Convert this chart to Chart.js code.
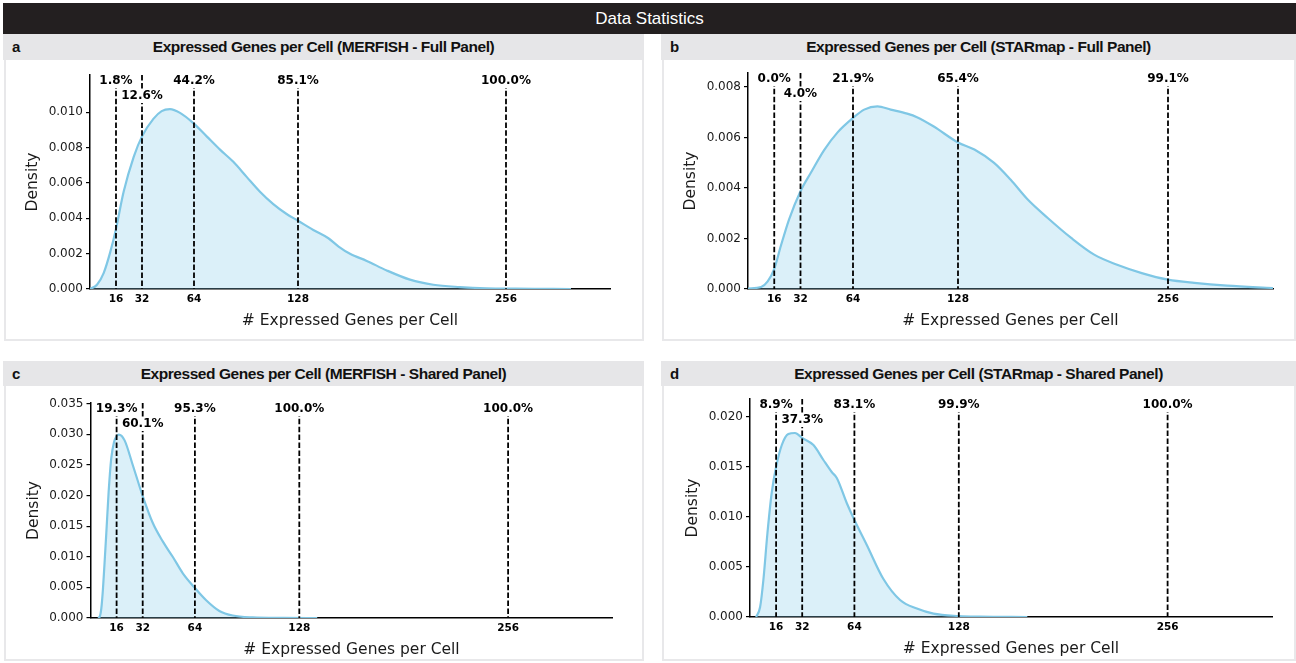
<!DOCTYPE html>
<html><head><meta charset="utf-8">
<script src="https://cdn.jsdelivr.net/npm/chart.js@4.4.1/dist/chart.umd.min.js"></script>
<style>
html,body{margin:0;padding:0;background:#fff;}
body{width:1296px;height:663px;position:relative;overflow:hidden;font-family:"Liberation Sans",Arial,sans-serif;}
#topbar{position:absolute;left:3px;top:3px;width:1293px;height:31px;background:#231f20;color:#fff;font-size:17px;line-height:31px;text-align:center;}
.phead{position:absolute;background:#e6e6e8;height:26px;}
.phead .lab{position:absolute;left:9px;top:0;line-height:26px;font-weight:bold;font-size:15px;color:#111;}
.phead .ttl{position:absolute;left:0;right:0;top:0;line-height:26px;text-align:center;font-weight:bold;font-size:15.5px;letter-spacing:-0.45px;color:#111;}
.pbody{position:absolute;border:2px solid #e8e8ea;border-top:none;box-sizing:border-box;background:#fff;}
canvas{position:absolute;}
</style></head><body>
<div id="topbar">Data Statistics</div>
<div id="root"></div>
<script>
// ---- data ----
const xTickValues = [16, 32, 64, 128, 256];
const panelLetters = ['a', 'b', 'c', 'd'];
const panelTitles = [
  'Expressed Genes per Cell (MERFISH - Full Panel)',
  'Expressed Genes per Cell (STARmap - Full Panel)',
  'Expressed Genes per Cell (MERFISH - Shared Panel)',
  'Expressed Genes per Cell (STARmap - Shared Panel)'
];
const xAxisTitle = '# Expressed Genes per Cell';
const yAxisTitle = 'Density';

const merfishFullX = [0, 4.3, 8.4, 12.5, 16, 20.7, 26.9, 32, 39, 44.1, 49.2, 55.4, 63.6, 71.8, 80, 88.2, 96.4, 104.6, 112.8, 121, 128, 137.4, 146.7, 153, 160, 170.3, 182.6, 196.9, 211.3, 227.7, 244, 262, 280, 296];
const merfishFullY = [0, 0.00024, 0.0009, 0.0021, 0.0034, 0.0055, 0.00747, 0.00863, 0.00962, 0.01006, 0.01017, 0.00996, 0.00938, 0.00863, 0.00788, 0.00719, 0.00634, 0.0055, 0.0048, 0.00424, 0.00386, 0.00334, 0.00287, 0.0024, 0.00199, 0.00159, 0.00105, 0.00053, 0.00024, 0.00011, 0.00004, 0.00002, 0.00001, 0];
const merfishFullPct = ['1.8%', '12.6%', '44.2%', '85.1%', '100.0%'];
const merfishFullYTicks = [0, 0.002, 0.004, 0.006, 0.008, 0.010];

const starmapFullX = [0, 8, 12, 16, 20, 25, 32, 38.3, 46.4, 54.6, 64, 70.8, 78.9, 87, 97, 103, 113, 128, 138, 150, 160, 170.5, 182.7, 197, 211, 225, 240, 256, 272, 292, 320];
const starmapFullY = [0.00002, 0.00008, 0.0003, 0.0008, 0.0017, 0.00275, 0.00387, 0.0046, 0.0055, 0.0062, 0.00677, 0.0071, 0.00723, 0.0071, 0.00694, 0.0068, 0.00644, 0.0058, 0.00552, 0.00499, 0.00433, 0.00354, 0.00281, 0.00202, 0.00136, 0.00096, 0.00063, 0.00037, 0.00024, 0.00013, 0.00004];
const starmapFullPct = ['0.0%', '4.0%', '21.9%', '65.4%', '99.1%'];
const starmapFullYTicks = [0, 0.002, 0.004, 0.006, 0.008];

const merfishSharedX = [4.6, 5.6, 6.6, 7.6, 8.6, 9.7, 11.1, 12.7, 14.4, 16, 17.4, 20.9, 26, 32, 38.2, 44.3, 50.4, 56.6, 64, 70.9, 79, 87.2, 99.4, 118, 139];
const merfishSharedY = [0, 0.0002, 0.0015, 0.0046, 0.0089, 0.0139, 0.0205, 0.026, 0.0287, 0.0297, 0.02995, 0.029, 0.0249, 0.0199, 0.0155, 0.0125, 0.010, 0.0073, 0.0049, 0.0029, 0.00115, 0.0004, 0.0001, 0.00002, 0];
const merfishSharedPct = ['19.3%', '60.1%', '95.3%', '100.0%', '100.0%'];
const merfishSharedYTicks = [0, 0.005, 0.010, 0.015, 0.020, 0.025, 0.030, 0.035];

const starmapSharedX = [3.7, 6.2, 8.2, 10.7, 13.3, 16, 19.5, 23.5, 27.6, 32, 38.9, 45, 50.1, 53.2, 59.3, 64, 71.6, 81.8, 92, 102.3, 112.5, 128, 141, 170];
const starmapSharedY = [0, 0.001, 0.0037, 0.0084, 0.0124, 0.015, 0.0172, 0.0183, 0.0184, 0.0179, 0.0172, 0.0157, 0.0145, 0.0139, 0.0114, 0.0097, 0.0072, 0.0038, 0.0017, 0.00084, 0.00033, 0.0001, 0.00004, 0];
const starmapSharedPct = ['8.9%', '37.3%', '83.1%', '99.9%', '100.0%'];
const starmapSharedYTicks = [0, 0.005, 0.010, 0.015, 0.020];

const xAxisMax = 320;
const yAxisMax = [0.0121, 0.00855, 0.0351, 0.0218];

// ---- layout (page pixels) ----
const layouts = [
  {panel:{x:3, y:34, w:641, h:307}, head:26, area:{l:90, r:610, t:75, b:289}},
  {panel:{x:661, y:34, w:635, h:307}, head:26, area:{l:748, r:1273, t:73, b:289}},
  {panel:{x:3, y:361, w:641, h:300}, head:25, area:{l:90.5, r:612.5, t:403, b:618}},
  {panel:{x:661, y:361, w:635, h:300}, head:25, area:{l:750, r:1272, t:399, b:617}}
];
const series = [
  {x: merfishFullX, y: merfishFullY, pct: merfishFullPct, yt: merfishFullYTicks},
  {x: starmapFullX, y: starmapFullY, pct: starmapFullPct, yt: starmapFullYTicks},
  {x: merfishSharedX, y: merfishSharedY, pct: merfishSharedPct, yt: merfishSharedYTicks},
  {x: starmapSharedX, y: starmapSharedY, pct: starmapSharedPct, yt: starmapSharedYTicks}
];

const pctLines = {
  id: 'pctLines',
  afterDatasetsDraw(chart, args, opts) {
    const {ctx, chartArea: ca} = chart;
    const xs = chart.scales.x;
    ctx.save();
    ctx.strokeStyle = '#000';
    ctx.lineWidth = 1.8;
    ctx.setLineDash([5.5, 2.4]);
    opts.values.forEach(v => {
      const px = xs.getPixelForValue(v);
      ctx.beginPath(); ctx.moveTo(px, ca.top); ctx.lineTo(px, ca.bottom); ctx.stroke();
    });
    ctx.setLineDash([]);
    ctx.font = 'bold 12px "DejaVu Sans"';
    ctx.textAlign = 'center';
    ctx.textBaseline = 'middle';
    let prevRight = -Infinity, prevRow = 1;
    opts.labels.forEach((t, i) => {
      const px = xs.getPixelForValue(opts.values[i]);
      const w = ctx.measureText(t).width;
      let row = 0;
      if (px - w / 2 - 2 < prevRight && prevRow === 0) row = 1;
      const cy = ca.top + (row ? 21 : 6);
      ctx.fillStyle = '#fff';
      ctx.fillRect(px - w / 2 - 2, cy - 7, w + 4, 14);
      ctx.fillStyle = '#000';
      ctx.fillText(t, px, cy);
      prevRight = px + w / 2 + 2; prevRow = row;
    });
    ctx.restore();
  }
};

const root = document.getElementById('root');
layouts.forEach((L, i) => {
  const P = L.panel, A = L.area, S = series[i];
  const head = document.createElement('div');
  head.className = 'phead';
  Object.assign(head.style, {left: P.x + 'px', top: P.y + 'px', width: P.w + 'px', height: L.head + 'px'});
  head.innerHTML = '<span class="lab">' + panelLetters[i] + '</span><span class="ttl">' + panelTitles[i] + '</span>';
  head.querySelector('.lab').style.lineHeight = L.head + 'px';
  head.querySelector('.ttl').style.lineHeight = L.head + 'px';
  root.appendChild(head);
  const body = document.createElement('div');
  body.className = 'pbody';
  const bodyTop = P.y + L.head;
  const bodyH = P.h - L.head;
  Object.assign(body.style, {left: (P.x + 1) + 'px', top: bodyTop + 'px', width: (P.w - 1) + 'px', height: bodyH + 'px'});
  root.appendChild(body);

  const cv = {x: P.x + 3, y: bodyTop, w: P.w - 6, h: bodyH - 2};
  const canvas = document.createElement('canvas');
  canvas.width = cv.w; canvas.height = cv.h;
  Object.assign(canvas.style, {left: cv.x + 'px', top: cv.y + 'px', width: cv.w + 'px', height: cv.h + 'px'});
  root.appendChild(canvas);

  const titleSize = 15.5, lh = titleSize * 1.2;
  const yW = A.l - cv.x;
  const xH = cv.y + cv.h - A.b;
  const yTitlePad = (A.l - 57) - cv.x - lh / 2;
  const xTitlePad = (cv.y + cv.h) - (A.b + 31.5) - lh / 2;

  new Chart(canvas, {
    type: 'line',
    data: {
      datasets: [{
        data: S.x.map((v, k) => ({x: v, y: S.y[k]})),
        borderColor: '#7fc7e5',
        borderWidth: 2.2,
        backgroundColor: 'rgba(135,206,235,0.3)',
        fill: 'origin',
        pointRadius: 0,
        cubicInterpolationMode: 'monotone'
      }]
    },
    options: {
      responsive: false,
      animation: false,
      events: [],
      layout: {padding: {top: A.t - cv.y, right: cv.x + cv.w - A.r, left: 0, bottom: 0}},
      plugins: {
        legend: {display: false},
        tooltip: {enabled: false},
        pctLines: {values: xTickValues, labels: S.pct}
      },
      scales: {
        x: {
          type: 'linear', min: 0, max: xAxisMax,
          afterBuildTicks: s => { s.ticks = xTickValues.map(v => ({value: v})); },
          afterFit: s => { s.height = xH; },
          ticks: {font: {family: 'DejaVu Sans', size: 10.5, weight: 'bold'}, color: '#000', padding: 4, maxRotation: 0, autoSkip: false, callback: v => String(v)},
          grid: {display: false, drawTicks: false, tickLength: 0},
          border: {display: true, color: '#000', width: 1.5},
          title: {display: true, text: xAxisTitle, font: {family: 'DejaVu Sans', size: titleSize}, color: '#1a1a1a', padding: {top: 0, bottom: xTitlePad}}
        },
        y: {
          min: 0, max: yAxisMax[i],
          afterBuildTicks: s => { s.ticks = S.yt.map(v => ({value: v})); },
          afterFit: s => { s.width = yW; },
          ticks: {font: {family: 'DejaVu Sans', size: 12}, color: '#1a1a1a', padding: 3, callback: v => Number(v).toFixed(3)},
          grid: {display: true, drawOnChartArea: false, drawTicks: true, tickLength: 4, color: '#000', lineWidth: 1.2},
          border: {display: true, color: '#000', width: 1.5},
          title: {display: true, text: yAxisTitle, font: {family: 'DejaVu Sans', size: titleSize}, color: '#1a1a1a', padding: {top: yTitlePad, bottom: 0}}
        }
      }
    },
    plugins: [pctLines]
  });
});
</script>
</body></html>
